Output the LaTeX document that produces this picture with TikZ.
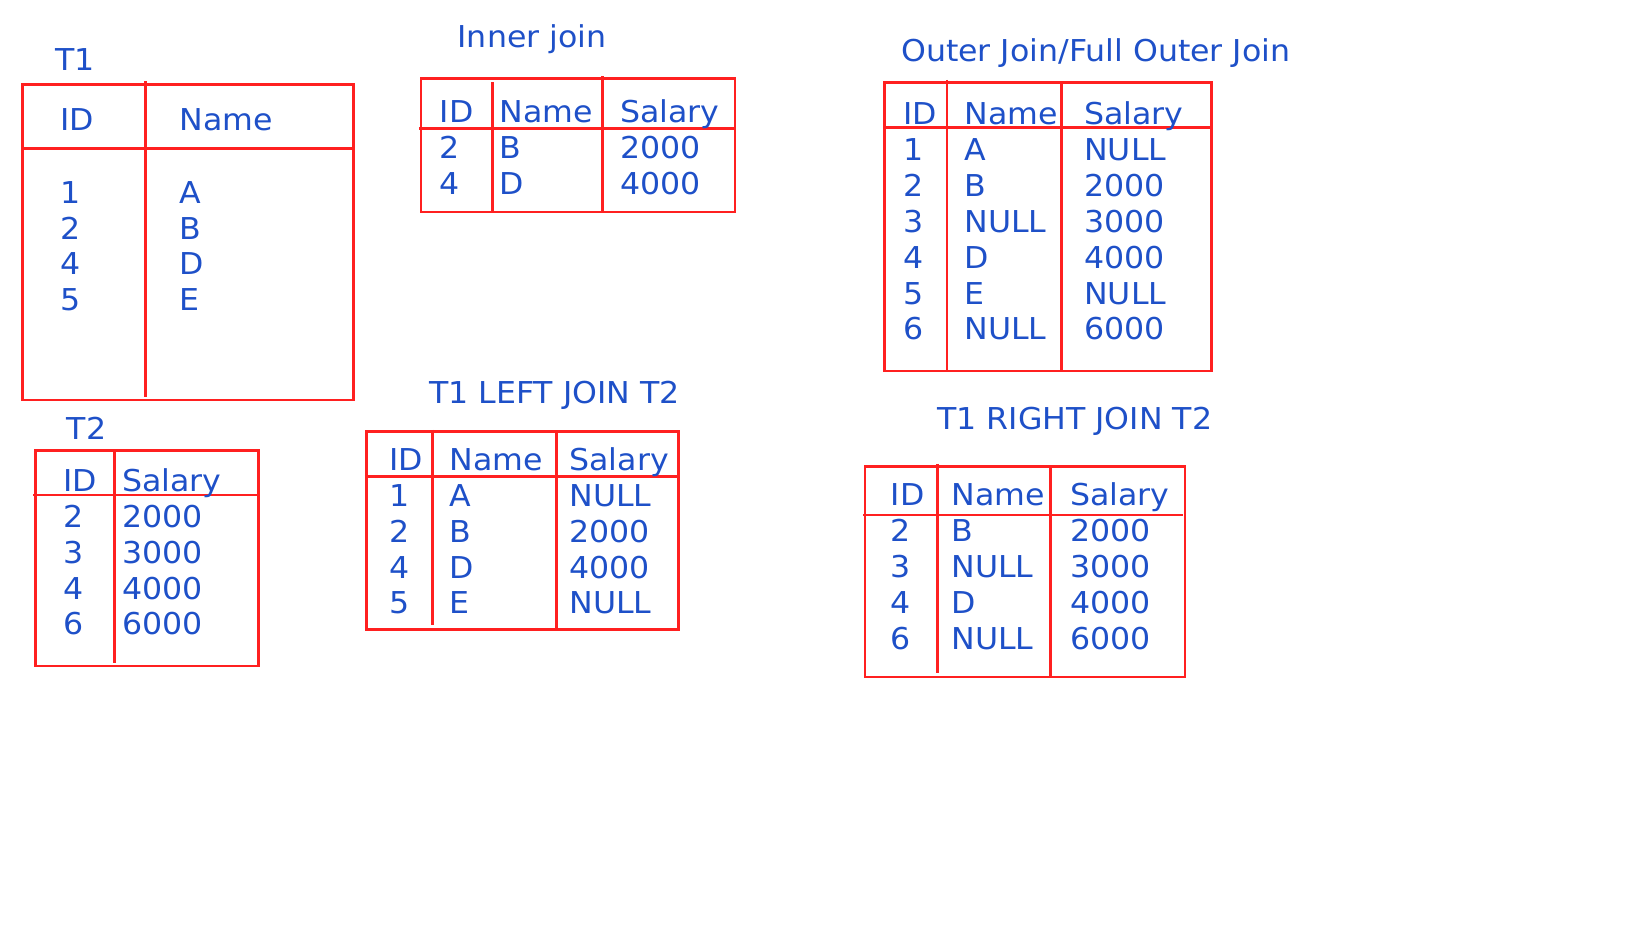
\documentclass[tikz,border=0pt]{standalone}
\usepackage{fontspec}
\setmainfont{DejaVu Sans}[FakeStretch=1.05]
\usepackage{tikz}
\definecolor{tblue}{RGB}{30,80,200}
\definecolor{tred}{RGB}{255,32,32}
\tikzset{
    cell/.style={anchor=base west, inner sep=0pt, text=tblue, font=\fontsize{28.5}{34}\selectfont},
    grid/.style={draw=tred, line width=2.6pt}
}
\begin{document}
\begin{tikzpicture}[x=1pt, y=-1pt]
    \useasboundingbox (0,0) rectangle (1560,877.5);

    \node[cell] (t1title) at (52.3,66.9) {T1};
    \draw[grid] (21.4,79.8) rectangle (334.7,378.6);
    \draw[grid] (138,76.7) -- (138,376);
    \draw[grid] (21.4,140.7) -- (334.7,140.7);
    \node[cell] (t1id) at (57,123.7) {ID};
    \node[cell] (t1name) at (170,123.7) {Name};
    \node[cell] (t1ida) at (57,192.5) {1};
    \node[cell] (t1namea) at (170,192.5) {A};
    \node[cell] (t1idb) at (57,226.5) {2};
    \node[cell] (t1nameb) at (170,226.5) {B};
    \node[cell] (t1idc) at (57,260.3) {4};
    \node[cell] (t1namec) at (170,260.3) {D};
    \node[cell] (t1idd) at (57,294) {5};
    \node[cell] (t1named) at (170,294) {E};

    \node[cell] (innertitle) at (433,45.1) {Inner join};
    \draw[grid] (398.4,74.5) rectangle (695.7,200.7);
    \draw[grid] (466.1,78) -- (466.1,200.7);
    \draw[grid] (570.2,72) -- (570.2,200.7);
    \draw[grid] (397,121.8) -- (695.7,121.8);
    \node[cell] (innerid) at (416,116.1) {ID};
    \node[cell] (innername) at (473,116.1) {Name};
    \node[cell] (innersal) at (587,116.1) {Salary};
    \node[cell] (innerida) at (416,149.9) {2};
    \node[cell] (innernamea) at (473,149.9) {B};
    \node[cell] (innersala) at (587,149.9) {2000};
    \node[cell] (inneridb) at (416,184) {4};
    \node[cell] (innernameb) at (473,184) {D};
    \node[cell] (innersalb) at (587,184) {4000};

    \node[cell] (outertitle) at (852.8,58.4) {Outer Join/Full Outer Join};
    \draw[grid] (837.5,78.2) rectangle (1146.7,351.2);
    \draw[grid] (896.4,75.7) -- (896.4,351.2);
    \draw[grid] (1004.9,78.2) -- (1004.9,351.2);
    \draw[grid] (837.5,120.8) -- (1146.7,120.8);
    \node[cell] (outerid) at (855.2,118.3) {ID};
    \node[cell] (outername) at (912.8,118.3) {Name};
    \node[cell] (outersal) at (1026.2,118.3) {Salary};
    \node[cell] (outerida) at (855.2,152.4) {1};
    \node[cell] (outernamea) at (912.8,152.4) {A};
    \node[cell] (outersala) at (1026.2,152.4) {NULL};
    \node[cell] (outeridb) at (855.2,186.1) {2};
    \node[cell] (outernameb) at (912.8,186.1) {B};
    \node[cell] (outersalb) at (1026.2,186.1) {2000};
    \node[cell] (outeridc) at (855.2,220.2) {3};
    \node[cell] (outernamec) at (912.8,220.2) {NULL};
    \node[cell] (outersalc) at (1026.2,220.2) {3000};
    \node[cell] (outeridd) at (855.2,254) {4};
    \node[cell] (outernamed) at (912.8,254) {D};
    \node[cell] (outersald) at (1026.2,254) {4000};
    \node[cell] (outeride) at (855.2,288) {5};
    \node[cell] (outernamee) at (912.8,288) {E};
    \node[cell] (outersale) at (1026.2,288) {NULL};
    \node[cell] (outeridf) at (855.2,321.8) {6};
    \node[cell] (outernamef) at (912.8,321.8) {NULL};
    \node[cell] (outersalf) at (1026.2,321.8) {6000};

    \node[cell] (t2title) at (63,415.8) {T2};
    \draw[grid] (33.4,426.6) rectangle (244.5,630.4);
    \draw[grid] (108.6,426.6) -- (108.6,627.2);
    \draw[grid] (31.5,468.5) -- (246,468.5);
    \node[cell] (t2id) at (59.5,465.4) {ID};
    \node[cell] (t2sal) at (115.5,465.4) {Salary};
    \node[cell] (t2ida) at (59.5,499.4) {2};
    \node[cell] (t2sala) at (115.5,499.4) {2000};
    \node[cell] (t2idb) at (59.5,533.2) {3};
    \node[cell] (t2salb) at (115.5,533.2) {3000};
    \node[cell] (t2idc) at (59.5,567.3) {4};
    \node[cell] (t2salc) at (115.5,567.3) {4000};
    \node[cell] (t2idd) at (59.5,601) {6};
    \node[cell] (t2sald) at (115.5,601) {6000};

    \node[cell] (lefttitle) at (406,381.7) {T1 LEFT JOIN T2};
    \draw[grid] (347.1,408.6) rectangle (642.4,595.7);
    \draw[grid] (409.4,407) -- (409.4,592);
    \draw[grid] (526.9,408.6) -- (526.9,597.5);
    \draw[grid] (345.5,450.9) -- (642.4,450.9);
    \node[cell] (leftid) at (368.5,445.5) {ID};
    \node[cell] (leftname) at (425.3,445.5) {Name};
    \node[cell] (leftsal) at (538.8,445.5) {Salary};
    \node[cell] (leftida) at (368.5,479.6) {1};
    \node[cell] (leftnamea) at (425.3,479.6) {A};
    \node[cell] (leftsala) at (538.8,479.6) {NULL};
    \node[cell] (leftidb) at (368.5,513.3) {2};
    \node[cell] (leftnameb) at (425.3,513.3) {B};
    \node[cell] (leftsalb) at (538.8,513.3) {2000};
    \node[cell] (leftidc) at (368.5,547.4) {4};
    \node[cell] (leftnamec) at (425.3,547.4) {D};
    \node[cell] (leftsalc) at (538.8,547.4) {4000};
    \node[cell] (leftidd) at (368.5,581.2) {5};
    \node[cell] (leftnamed) at (425.3,581.2) {E};
    \node[cell] (leftsald) at (538.8,581.2) {NULL};

    \node[cell] (righttitle) at (887,407) {T1 RIGHT JOIN T2};
    \draw[grid] (818.7,441.7) rectangle (1121.7,640.8);
    \draw[grid] (887.5,439) -- (887.5,637.3);
    \draw[grid] (994.5,441.7) -- (994.5,640.8);
    \draw[grid] (817.2,487.5) -- (1119.7,487.5);
    \node[cell] (rightid) at (843,478.9) {ID};
    \node[cell] (rightname) at (900.4,478.9) {Name};
    \node[cell] (rightsal) at (1012.8,478.9) {Salary};
    \node[cell] (rightida) at (843,512.7) {2};
    \node[cell] (rightnamea) at (900.4,512.7) {B};
    \node[cell] (rightsala) at (1012.8,512.7) {2000};
    \node[cell] (rightidb) at (843,546.8) {3};
    \node[cell] (rightnameb) at (900.4,546.8) {NULL};
    \node[cell] (rightsalb) at (1012.8,546.8) {3000};
    \node[cell] (rightidc) at (843,580.8) {4};
    \node[cell] (rightnamec) at (900.4,580.8) {D};
    \node[cell] (rightsalc) at (1012.8,580.8) {4000};
    \node[cell] (rightidd) at (843,614.6) {6};
    \node[cell] (rightnamed) at (900.4,614.6) {NULL};
    \node[cell] (rightsald) at (1012.8,614.6) {6000};
\end{tikzpicture}
\end{document}
